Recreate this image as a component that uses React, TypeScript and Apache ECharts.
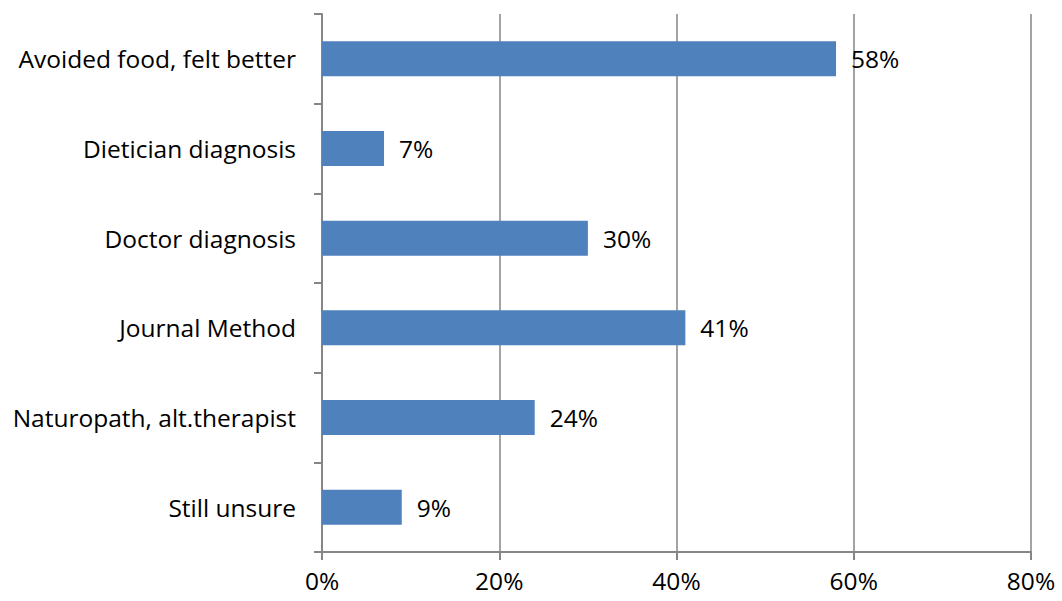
import React, { useEffect, useRef } from "react";
import * as echarts from "echarts";

const categories = [
  "Avoided food, felt better",
  "Dietician diagnosis",
  "Doctor diagnosis",
  "Journal Method",
  "Naturopath, alt.therapist",
  "Still unsure",
];
const values = [58, 7, 30, 41, 24, 9];
const xTicks = [0, 20, 40, 60, 80];

const FONT = "Open Sans";
const FONT_SIZE = 24.5;
const AXIS_GRAY = "#868686";

export default function App() {
  const ref = useRef<HTMLDivElement>(null);

  useEffect(() => {
    if (!ref.current) return;
    const chart = echarts.init(ref.current, undefined, { renderer: "svg" });
    chart.setOption({
      animation: false,
      grid: { left: 322, right: 31, top: 14, bottom: 49, containLabel: false },
      xAxis: {
        type: "value",
        min: xTicks[0],
        max: xTicks[xTicks.length - 1],
        interval: 20,
        axisLine: { show: true, lineStyle: { color: AXIS_GRAY, width: 2 } },
        axisTick: { show: true, length: 8, lineStyle: { color: AXIS_GRAY, width: 2 } },
        splitLine: { show: true, lineStyle: { color: AXIS_GRAY, width: 1.5 } },
        axisLabel: {
          formatter: (v: number) => `${v}%`,
          color: "#000",
          fontFamily: FONT,
          fontSize: FONT_SIZE,
          margin: 16,
        },
      },
      yAxis: {
        type: "category",
        data: categories,
        inverse: true,
        axisLine: { show: true, lineStyle: { color: AXIS_GRAY, width: 2 } },
        axisTick: { show: true, length: 8, alignWithLabel: false, lineStyle: { color: AXIS_GRAY, width: 2 } },
        axisLabel: {
          color: "#000",
          fontFamily: FONT,
          fontSize: FONT_SIZE,
          margin: 26,
        },
      },
      series: [
        {
          type: "bar",
          data: values,
          barWidth: "39%",
          itemStyle: { color: "#4F81BD" },
          label: {
            show: true,
            position: "right",
            distance: 15,
            formatter: (p: any) => `${p.value}%`,
            color: "#000",
            fontFamily: FONT,
            fontSize: FONT_SIZE,
          },
        },
      ],
    });
    return () => chart.dispose();
  }, []);

  return (
    <div
      ref={ref}
      style={{ width: 1062, height: 601, position: "absolute", left: 0, top: 0, background: "#fff" }}
    />
  );
}
